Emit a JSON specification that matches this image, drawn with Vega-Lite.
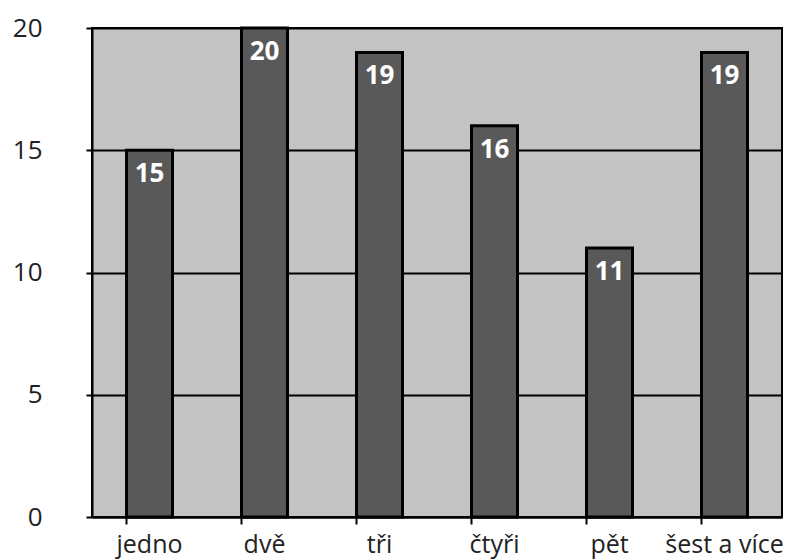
{
  "$schema": "https://vega.github.io/schema/vega-lite/v6.json",
  "autosize": {"type": "none"},
  "width": 690,
  "height": 489,
  "padding": {"left": 92, "top": 28, "right": 13, "bottom": 43},
  "background": "white",
  "config": {
    "view": {"fill": "#c3c3c3", "stroke": "black", "strokeWidth": 2},
    "font": "Open Sans"
  },
  "data": {
    "values": [
      {"kategorie": "jedno", "pocet": 15},
      {"kategorie": "dvě", "pocet": 20},
      {"kategorie": "tři", "pocet": 19},
      {"kategorie": "čtyři", "pocet": 16},
      {"kategorie": "pět", "pocet": 11},
      {"kategorie": "šest a více", "pocet": 19}
    ]
  },
  "encoding": {
    "x": {
      "field": "kategorie",
      "type": "nominal",
      "sort": null,
      "scale": {"paddingInner": 0.6, "paddingOuter": 0.3},
      "axis": {
        "title": null,
        "labelAngle": 0,
        "labelFont": "Open Sans",
        "labelFontSize": 25,
        "labelColor": "#222",
        "labelPadding": 8,
        "bandPosition": 0,
        "domainColor": "black",
        "domainWidth": 2,
        "tickColor": "black",
        "tickWidth": 2,
        "tickSize": 7,
        "grid": false
      }
    },
    "y": {
      "field": "pocet",
      "type": "quantitative",
      "scale": {"domain": [0, 20], "nice": false},
      "axis": {
        "title": null,
        "values": [0, 5, 10, 15, 20],
        "labelFont": "Open Sans",
        "labelFontSize": 26,
        "labelColor": "#222",
        "labelPadding": 44,
        "domainColor": "black",
        "domainWidth": 2,
        "tickColor": "black",
        "tickWidth": 2,
        "tickSize": 6,
        "grid": true,
        "gridColor": "black",
        "gridWidth": 2,
        "gridOpacity": 1
      }
    }
  },
  "layer": [
    {
      "mark": {"type": "bar", "fill": "#595959", "stroke": "black", "strokeWidth": 3}
    },
    {
      "mark": {"type": "text", "color": "white", "fontWeight": "bold", "fontSize": 26, "baseline": "top", "dy": 11, "font": "Open Sans"},
      "encoding": {"text": {"field": "pocet", "type": "quantitative"}}
    }
  ]
}
